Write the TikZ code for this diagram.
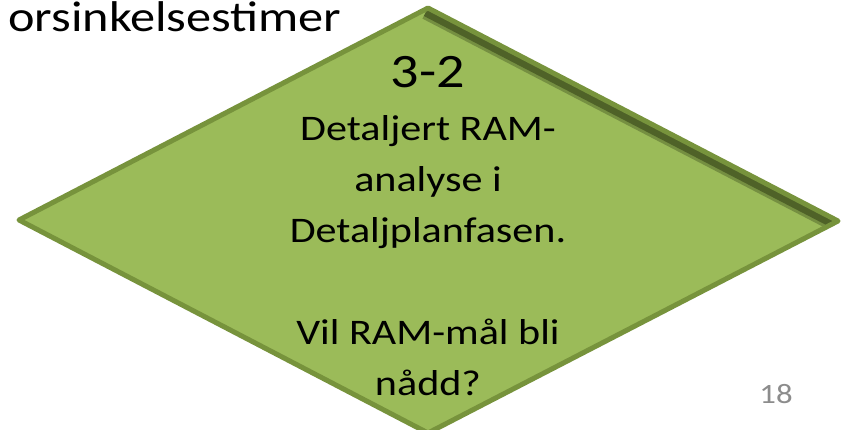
\documentclass[tikz,border=0pt]{standalone}
\usepackage{fontspec}
\setmainfont{Carlito}[FakeStretch=1.17]
\usetikzlibrary{positioning}

\definecolor{olivefill}{HTML}{9BBB59}
\definecolor{oliveline}{HTML}{77933C}
\definecolor{olivedark}{HTML}{4F6228}
\definecolor{pagegray}{HTML}{8C8C8C}

\begin{document}
\begin{tikzpicture}[x=1pt, y=-1pt]
    % Define styles
    \tikzset{
        bigtext/.style={
            inner sep=0pt,
            font=\fontsize{43}{52}\selectfont
        },
        numtext/.style={
            inner sep=0pt,
            font=\fontsize{48}{58}\selectfont
        },
        bodytext/.style={
            inner sep=0pt,
            align=center,
            font=\fontsize{36}{51}\selectfont
        },
        pagenum/.style={
            inner sep=0pt,
            text=pagegray,
            font=\fontsize{28}{34}\selectfont
        }
    }
    \useasboundingbox (0,0) rectangle (846,429);

    % Diamond corners
    \coordinate (top) at (428,8);
    \coordinate (right) at (838,221);
    \coordinate (bottom) at (428,433);
    \coordinate (left) at (19,220);

    % Diamond with bevel on the upper right edge
    \fill[olivefill] (top) -- (right) -- (bottom) -- (left) -- cycle;
    \begin{scope}
        \clip (top) -- (right) -- (bottom) -- (left) -- cycle;
        \draw[line width=24pt, olivedark!50!olivefill] (top) -- (right);
        \draw[line width=18pt, olivedark] (top) -- (right);
    \end{scope}
    \draw[line width=5pt, oliveline, line join=round] (top) -- (right) -- (bottom) -- (left) -- cycle;

    % Texts
    \node[bigtext, anchor=base west] (heading) at (8,31) {orsinkelsestimer};
    \node[numtext, anchor=base] (num) at (428,87) {3-2};
    \node[bodytext, anchor=north] (body) at (428,115) {Detaljert RAM-\\analyse i\\Detaljplanfasen.\\[0pt]\\Vil RAM-mål bli\\nådd?};
    \node[pagenum, anchor=base] (page) at (776,403) {18};
\end{tikzpicture}
\end{document}
